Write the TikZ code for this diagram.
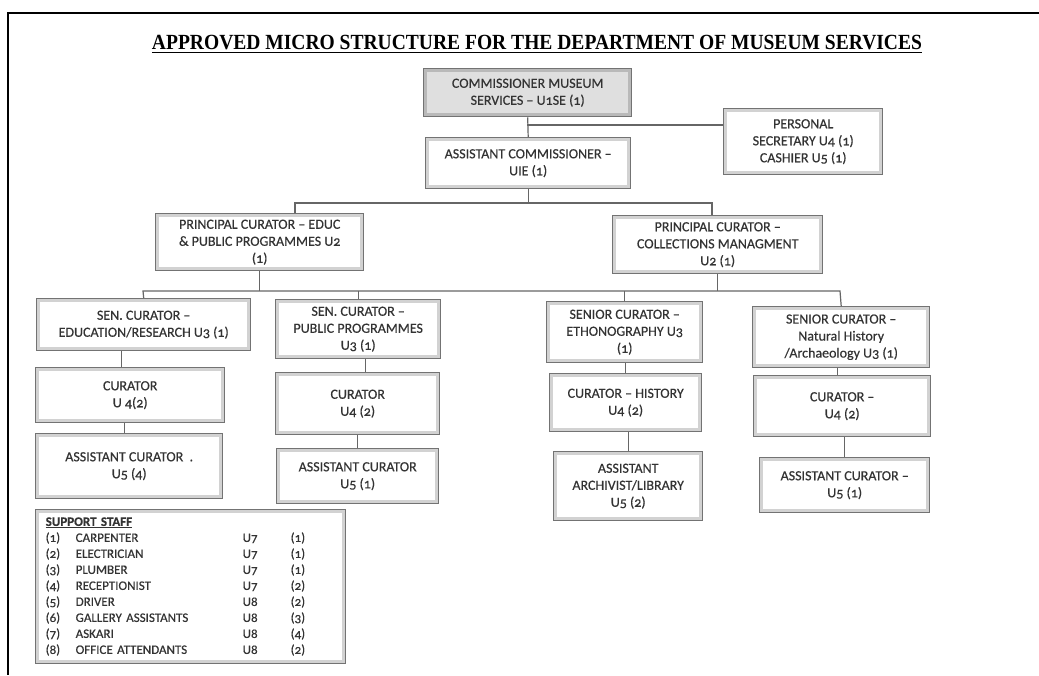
\documentclass[tikz,border=0pt]{standalone}
\usepackage{fontspec}
\setmainfont{Carlito}[Numbers=OldStyle, FakeBold=0.4]
\newfontfamily\titlefont{Liberation Serif}
\usepackage{graphicx}
\usepackage{tikz}
\usetikzlibrary{positioning}

\begin{document}
\begin{tikzpicture}[x=1pt, y=-1pt,
  font=\fontsize{14}{17}\selectfont, text=black!80,
  post/.style={draw=black!55, line width=1.4pt, fill=white, align=center, inner sep=2pt, anchor=north west,
    path picture={\draw[gray!35, line width=7pt] (path picture bounding box.south west) rectangle (path picture bounding box.north east);}},
  head/.style={post, fill=gray!25,
    path picture={\draw[gray!55, line width=7pt] (path picture bounding box.south west) rectangle (path picture bounding box.north east);}},
  link/.style={draw=black!60, line width=1.2pt}]
\fill[white] (0,0) rectangle (1039,675);
\useasboundingbox (0,0) rectangle (1039,675);
% page frame
\draw[line width=2.8pt] (1039,13) -- (8,13) -- (8,675);
\node[inner sep=0pt, anchor=base, text=black] (title) at (537,49.5)
  {\resizebox{770pt}{14.3pt}{\titlefont\bfseries\underline{APPROVED MICRO STRUCTURE FOR THE DEPARTMENT OF MUSEUM SERVICES}}};

% top of the structure
\node[head, minimum width=208pt, minimum height=48pt] (comm) at (423,68) {COMMISSIONER MUSEUM\\SERVICES – U1SE (1)};
\node[post, minimum width=159pt, minimum height=66pt] (pers) at (723,108) {PERSONAL\\SECRETARY U4 (1)\\CASHIER U5 (1)};
\node[post, minimum width=205pt, minimum height=51pt] (asst) at (425,137) {ASSISTANT COMMISSIONER –\\UIE (1)};
\node[post, minimum width=208pt, minimum height=57pt] (pced) at (155,213) {PRINCIPAL CURATOR – EDUC\\\& PUBLIC PROGRAMMES U2\\(1)};
\node[post, minimum width=210pt, minimum height=58pt] (pccol) at (612,215) {PRINCIPAL CURATOR –\\COLLECTIONS MANAGMENT\\U2 (1)};

% senior curators
\node[post, minimum width=214pt, minimum height=52pt] (sened) at (36,298) {SEN. CURATOR –\\EDUCATION/RESEARCH U3 (1)};
\node[post, minimum width=165pt, minimum height=59pt] (senpp) at (275,299) {SEN. CURATOR –\\PUBLIC PROGRAMMES\\U3 (1)};
\node[post, minimum width=156pt, minimum height=61pt] (seneth) at (546,301) {SENIOR CURATOR –\\ETHONOGRAPHY U3\\(1)};
\node[post, minimum width=177pt, minimum height=61pt] (sennh) at (752,306) {SENIOR CURATOR –\\Natural History\\/Archaeology U3 (1)};

% curators
\node[post, minimum width=189pt, minimum height=55pt] (cured) at (35,367) {CURATOR\\U 4(2)};
\node[post, minimum width=164pt, minimum height=62pt] (curpp) at (275,372) {CURATOR\\U4 (2)};
\node[post, minimum width=152pt, minimum height=58pt] (curhist) at (549,373) {CURATOR – HISTORY\\U4 (2)};
\node[post, minimum width=177pt, minimum height=61pt] (curnh) at (753,375) {CURATOR –\\U4 (2)};

% assistants
\node[post, minimum width=187pt, minimum height=65pt] (asted) at (35,433) {ASSISTANT CURATOR\ \ .\\U5 (4)};
\node[post, minimum width=162pt, minimum height=55pt] (astpp) at (276,448) {ASSISTANT CURATOR\\U5 (1)};
\node[post, minimum width=149pt, minimum height=69pt] (astarch) at (553,451) {ASSISTANT\\ARCHIVIST/LIBRARY\\U5 (2)};
\node[post, minimum width=170pt, minimum height=55pt] (astnh) at (759,457) {ASSISTANT CURATOR –\\U5 (1)};

% support staff
\node[post, align=left, text width=290pt, inner xsep=10pt, minimum height=154pt,
  font=\fontsize{13}{16}\selectfont] (staff) at (35,509) {%
  \begin{tabular}{@{}p{30pt}@{}p{167pt}@{}p{48pt}@{}l@{}}
  \multicolumn{4}{@{}l}{\textbf{\underline{SUPPORT STAFF}}}\\
  (1) & CARPENTER & U7 & (1)\\
  (2) & ELECTRICIAN & U7 & (1)\\
  (3) & PLUMBER & U7 & (1)\\
  (4) & RECEPTIONIST & U7 & (2)\\
  (5) & DRIVER & U8 & (2)\\
  (6) & GALLERY ASSISTANTS & U8 & (3)\\
  (7) & ASKARI & U8 & (4)\\
  (8) & OFFICE ATTENDANTS & U8 & (2)
  \end{tabular}};

% connectors
\coordinate (j1) at (527,125);
\coordinate (b1w) at (295,203);
\coordinate (b1e) at (712,203);
\coordinate (b2w) at (143,291);
\coordinate (b2e) at (840,291);
\draw[link] (comm.south) -- (asst.north);
\draw[link] (j1) -- (j1 -| pers.west);
\draw[link] (asst.south) -- (asst.south |- b1w);
\draw[link] (pced.north -| b1w) -- (b1w) -- (b1e) -- (pccol.north -| b1e);
\draw[link] (pced.south) -- (pced.south |- b2w);
\draw[link] (pccol.south) -- (pccol.south |- b2w);
\draw[link] (sened.north) -- (b2w) -- (b2e) -- (sennh.north);
\draw[link] (senpp.north) -- (senpp.north |- b2w);
\draw[link] (seneth.north) -- (seneth.north |- b2w);
\draw[link] ([xshift=-9pt]cured.north) -- ([xshift=-9pt]cured.north |- sened.south);
\draw[link] ([xshift=8pt]curpp.north) -- ([xshift=8pt]curpp.north |- senpp.south);
\draw[link] (curhist.north) -- (curhist.north |- seneth.south);
\draw[link] ([xshift=-5pt]curnh.north) -- ([xshift=-5pt]curnh.north |- sennh.south);
\draw[link] ([xshift=-5pt]asted.north) -- ([xshift=-5pt]asted.north |- cured.south);
\draw[link] (astpp.north) -- (astpp.north |- curpp.south);
\draw[link] (astarch.north) -- (astarch.north |- curhist.south);
\draw[link] (astnh.north) -- (astnh.north |- curnh.south);
\end{tikzpicture}
\end{document}
